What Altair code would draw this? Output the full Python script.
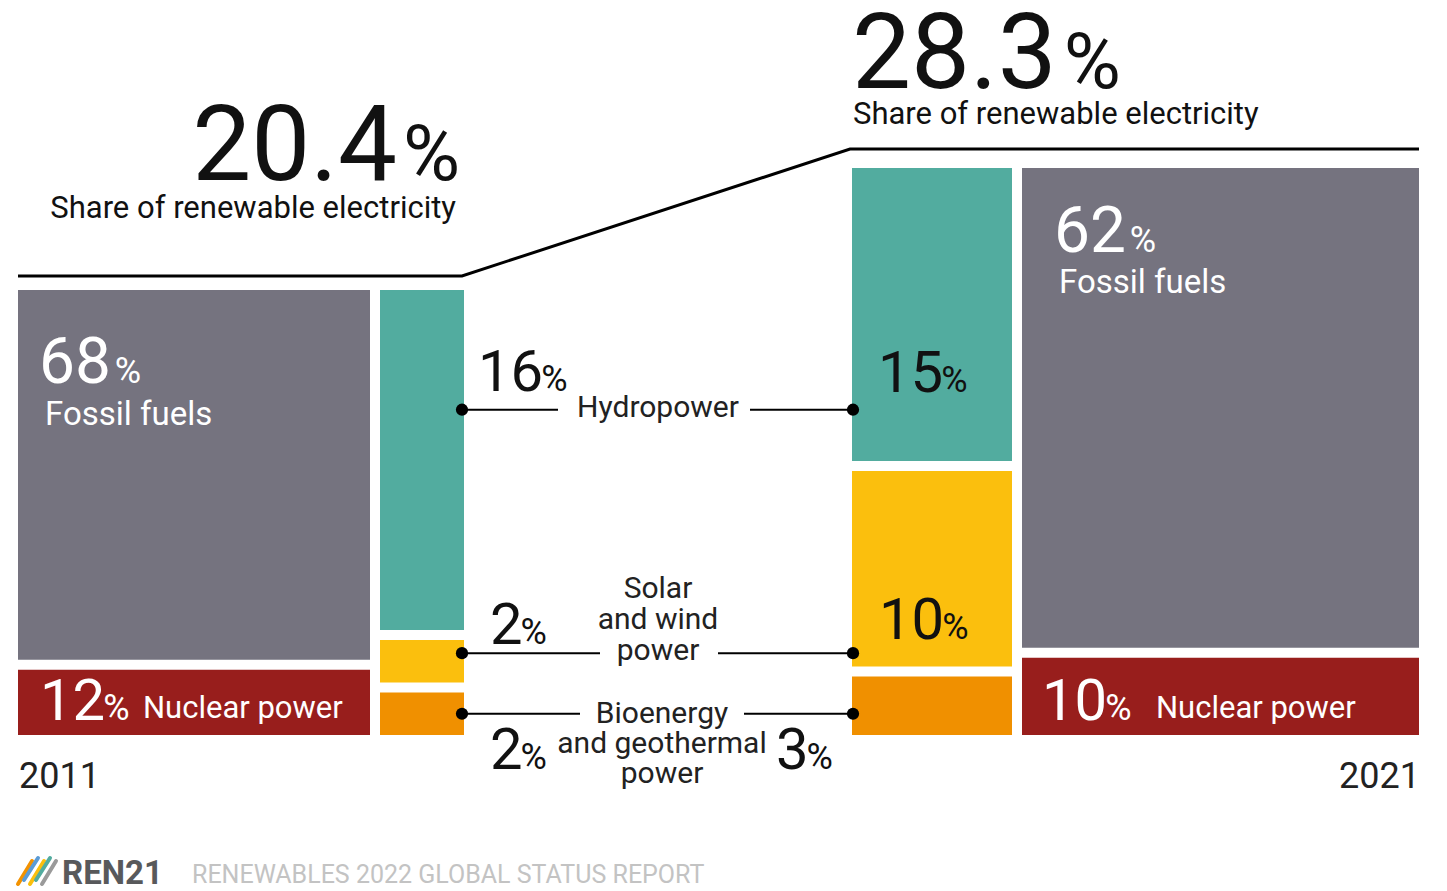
import altair as alt
import pandas as pd

# ---------------- data ----------------
years = ["2011", "2021"]
renewable_share = [20.4, 28.3]
fossil_share = [68, 62]
nuclear_share = [12, 10]
hydro_share = [16, 15]
solar_wind_share = [2, 10]
bio_geo_share = [2, 3]
renewable_labels = [["Hydropower"], ["Solar", "and wind", "power"], ["Bioenergy", "and geothermal", "power"]]
nonrenewable_labels = ["Fossil fuels", "Nuclear power"]
headline_label = "Share of renewable electricity"
footer_brand = "REN21"
footer_title = "RENEWABLES 2022 GLOBAL STATUS REPORT"

# ---------------- style / layout ----------------
W, H = 1447, 891
FONT = "Roboto"
GRAY, RED = "#75737f", "#981e1c"
TEAL, YELLOW, ORANGE = "#52ac9f", "#fbbf0d", "#f09000"
BOTTOM, GAP = 735, 10
TOP = {"2011": 290, "2021": 168}
LINE_OFF = {"2011": 14, "2021": 19}
NONREN_X = {"2011": (18, 370), "2021": (1022, 1419)}
REN_X = {"2011": (380, 464), "2021": (852, 1012)}
CONN_FRAC = [0.7, 0.5, 0.5]
CX = 658
CONN_GAP = [(100, 92), (58, 60), (78, 86)]

xs = alt.Scale(domain=[0, W], nice=False, zero=False)
ys = alt.Scale(domain=[0, H], reverse=True, nice=False, zero=False)


def num_width(s, size):
    return sum(0.257 if ch == "." else 0.5615 for ch in s) * size


def fmt(v):
    return f"{v:g}"


rects = []
bounds = {}
for i, yr in enumerate(years):
    top = TOP[yr]
    vals = [fossil_share[i], nuclear_share[i]]
    avail = BOTTOM - top - GAP
    y = top
    for k, (v, c) in enumerate(zip(vals, [GRAY, RED])):
        h = avail * v / sum(vals)
        rects.append(dict(x=NONREN_X[yr][0], x2=NONREN_X[yr][1], y=y, y2=y + h, color=c))
        bounds[(yr, "nr", k)] = (y, y + h)
        y += h + GAP
    vals = [hydro_share[i], solar_wind_share[i], bio_geo_share[i]]
    avail = BOTTOM - top - 2 * GAP
    y = top
    for k, (v, c) in enumerate(zip(vals, [TEAL, YELLOW, ORANGE])):
        h = avail * v / sum(vals)
        rects.append(dict(x=REN_X[yr][0], x2=REN_X[yr][1], y=y, y2=y + h, color=c))
        bounds[(yr, "r", k)] = (y, y + h)
        y += h + GAP
rect_df = pd.DataFrame(rects)

texts = []


def add_text(x, y, text, size, color="#111111", align="left", baseline="alphabetic", font=FONT, weight="normal"):
    texts.append(dict(x=x, y=y, text=text, size=size, color=color, align=align,
                      baseline=baseline, font=font, weight=weight))


def add_pct(x, y, value, nsize, psize, color="#111111", gap=-2):
    s = fmt(value)
    add_text(x, y, s, nsize, color)
    add_text(x + num_width(s, nsize) + gap, y, "%", psize, color)


# connectors
conn_lines = []
dots = []
conn_y = []
x_left = REN_X["2011"][1] - 2
x_right = REN_X["2021"][0] + 1
for k in range(3):
    a = bounds[("2011", "r", k)]
    b = bounds[("2021", "r", k)]
    lo, hi = max(a[0], b[0]), min(a[1], b[1])
    cy = lo + CONN_FRAC[k] * (hi - lo)
    conn_y.append(cy)
    gl, gr = CONN_GAP[k]
    conn_lines.append(dict(x=x_left, x2=CX - gl, y=cy))
    conn_lines.append(dict(x=CX + gr, x2=x_right, y=cy))
    dots.append(dict(x=x_left, y=cy))
    dots.append(dict(x=x_right, y=cy))
conn_df = pd.DataFrame(conn_lines)
dot_df = pd.DataFrame(dots)

# connector labels
add_text(CX, conn_y[0] - 2, renewable_labels[0][0], 30, "#222222", baseline="middle", align="center")
for j, line in enumerate(renewable_labels[1]):
    add_text(CX, conn_y[1] - 2 - 31 * (2 - j), line, 30, "#222222", baseline="middle", align="center")
for j, line in enumerate(renewable_labels[2]):
    add_text(CX + 4, conn_y[2] + 30 * j, line, 30, "#222222", baseline="middle", align="center")

# renewable percentages
add_pct(478, conn_y[0] - 19, hydro_share[0], 58, 36)
add_pct(878, conn_y[0] - 18, hydro_share[1], 58, 36)
add_pct(490, conn_y[1] - 9, solar_wind_share[0], 58, 36)
add_pct(879, conn_y[1] - 14, solar_wind_share[1], 58, 36)
add_pct(490, conn_y[2] + 55, bio_geo_share[0], 58, 36)
add_pct(776, conn_y[2] + 55, bio_geo_share[1], 58, 36)

# fossil / nuclear labels
f11 = bounds[("2011", "nr", 0)]
f21 = bounds[("2021", "nr", 0)]
add_pct(39, f11[0] + 93, fossil_share[0], 64, 36, "white", gap=4)
add_text(45, f11[0] + 135, nonrenewable_labels[0], 33, "white")
add_pct(1054, f21[0] + 84, fossil_share[1], 64, 36, "white", gap=4)
add_text(1059, f21[0] + 125, nonrenewable_labels[0], 33, "white")
add_pct(40, BOTTOM - 15, nuclear_share[0], 58, 36, "white")
add_text(143, BOTTOM - 17, nonrenewable_labels[1], 31, "white")
add_pct(1042, BOTTOM - 15, nuclear_share[1], 58, 36, "white")
add_text(1156, BOTTOM - 17, nonrenewable_labels[1], 31, "white")

# year labels
add_text(NONREN_X["2011"][0] + 1, BOTTOM + 53, years[0], 36, "#222222")
add_text(NONREN_X["2021"][1] + 1, BOTTOM + 53, years[1], 36, "#222222", align="right")

# headlines
l11 = TOP["2011"] - LINE_OFF["2011"]
l21 = TOP["2021"] - LINE_OFF["2021"]
s0 = fmt(renewable_share[0])
add_text(397, l11 - 96, s0, 105, align="right")
add_text(403, l11 - 96, "%", 78)
add_text(456, l11 - 58, headline_label, 31, align="right")
s1 = fmt(renewable_share[1])
add_text(852, l21 - 61, s1, 105)
add_text(852 + num_width(s1, 105) + 8, l21 - 61, "%", 78)
add_text(853, l21 - 25, headline_label, 31)

# footer
add_text(62, 884, footer_brand, 33, "#58595b", weight="bold")
add_text(192, 883, footer_title, 25, "#c3c3c3", font="Roboto")

text_df = pd.DataFrame(texts)

# headline line
hl = pd.DataFrame([
    dict(x=NONREN_X["2011"][0], y=l11, o=0),
    dict(x=REN_X["2011"][1] - 2, y=l11, o=1),
    dict(x=REN_X["2021"][0] - 2, y=l21, o=2),
    dict(x=NONREN_X["2021"][1], y=l21, o=3),
])

# logo strokes
logo_colors = ["#f39200", "#5b9bd5", "#fbbf0d", "#52ac9f", "#9a9a9a"]
logo = []
for i, c in enumerate(logo_colors):
    logo.append(dict(x=18 + 6 * i, y=884 - (i % 2) * 4, x2=32 + 6 * i, y2=858 + ((i + 1) % 2) * 3, color=c))
logo_df = pd.DataFrame(logo)

X = lambda f="x": alt.X(f"{f}:Q", scale=xs, axis=None)
Y = lambda f="y": alt.Y(f"{f}:Q", scale=ys, axis=None)

layers = []
layers.append(alt.Chart(rect_df).mark_rect().encode(
    x=X(), x2="x2:Q", y=Y(), y2="y2:Q", color=alt.Color("color:N", scale=None)))
layers.append(alt.Chart(hl).mark_line(color="black", strokeWidth=3).encode(
    x=X(), y=Y(), order="o:Q"))
layers.append(alt.Chart(conn_df).mark_rule(color="black", strokeWidth=2).encode(
    x=X(), x2="x2:Q", y=Y()))
layers.append(alt.Chart(dot_df).mark_circle(color="black", opacity=1, size=150).encode(
    x=X(), y=Y()))
layers.append(alt.Chart(logo_df).mark_rule(strokeWidth=4, strokeCap="round").encode(
    x=X(), x2="x2:Q", y=Y(), y2="y2:Q", color=alt.Color("color:N", scale=None)))

for (align, baseline, font, weight), g in text_df.groupby(["align", "baseline", "font", "weight"]):
    layers.append(alt.Chart(g.reset_index(drop=True)).mark_text(
        align=align, baseline=baseline, font=font, fontWeight=weight).encode(
        x=X(), y=Y(), text="text:N",
        size=alt.Size("size:Q", scale=None),
        color=alt.Color("color:N", scale=None)))

chart = alt.layer(*layers).properties(
    width=W, height=H, padding=0, autosize="none", background="white"
).configure_view(stroke=None)

chart.save("out.html", embed_options={"renderer": "svg", "actions": False})
